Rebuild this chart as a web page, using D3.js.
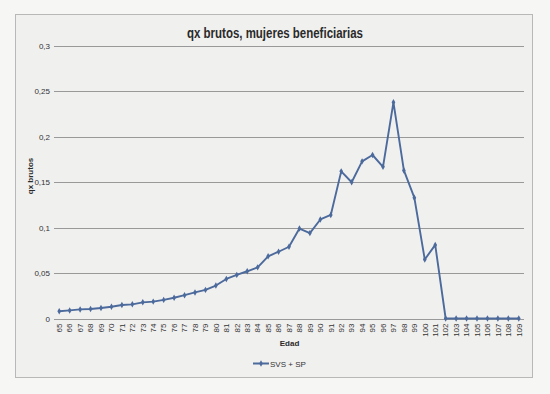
<!DOCTYPE html>
<html><head><meta charset="utf-8">
<script src="https://cdn.jsdelivr.net/npm/d3@7/dist/d3.min.js"></script>
<style>
html,body{margin:0;padding:0;background:#f6f6f5;}
svg{display:block;}
</style></head>
<body>
<svg id="c" width="550" height="394"></svg>
<script>
const ages = d3.range(65, 110).map(String);
const qx = [0.008,0.0089,0.010,0.0104,0.0115,0.013,0.0148,0.0156,0.0178,0.0186,
  0.0205,0.0228,0.0257,0.0287,0.0315,0.0363,0.0435,0.048,0.052,0.0563,
  0.0685,0.0735,0.079,0.099,0.094,0.109,0.114,0.162,0.150,0.173,
  0.180,0.167,0.238,0.163,0.133,0.065,0.081,0,0,0,
  0,0,0,0,0];
const yTicks = [0,0.05,0.1,0.15,0.2,0.25,0.3];
const yTickLabels = ["0","0,05","0,1","0,15","0,2","0,25","0,3"];
const title = "qx brutos, mujeres beneficiarias";
const xTitle = "Edad";
const yTitle = "qx brutos";
const seriesName = "SVS + SP";

const svg = d3.select("#c");
const font = "Liberation Sans, Arial, sans-serif";
const lineColor = "#4c6a9c";

// chart border
svg.append("rect").attr("x",15.5).attr("y",14.5).attr("width",517).attr("height",363)
  .attr("fill","#f0f0ef").attr("stroke","#b8b8b8").attr("stroke-width",1);

const x = d3.scaleBand().domain(ages).range([54,524]);
const y = d3.scaleLinear().domain([0,0.3]).range([318.5,46]);

// gridlines
svg.append("g").selectAll("line").data(yTicks).join("line")
  .attr("x1",54).attr("x2",524)
  .attr("y1",d=>Math.round(y(d))+0.5).attr("y2",d=>Math.round(y(d))+0.5)
  .attr("stroke","#8e8e8e").attr("stroke-width",0.9);

// y axis labels
const yAxis = d3.axisLeft(y).tickValues(yTicks).tickSize(0).tickPadding(0)
  .tickFormat((d,i)=>yTickLabels[i]);
const gy = svg.append("g").attr("transform","translate(50,0)").call(yAxis);
gy.select(".domain").remove();
gy.selectAll("text").attr("font-family",font).attr("font-size",8).attr("fill","#333");

// x axis
const xAxis = d3.axisBottom(x).tickSize(0).tickPadding(0);
const gx = svg.append("g").attr("transform",`translate(0,${Math.round(y(0))+0.5})`).call(xAxis);
gx.select(".domain").remove();
gx.selectAll("text").attr("font-family",font).attr("font-size",8).attr("fill","#333")
  .attr("transform","rotate(-90)").attr("text-anchor","end")
  .attr("x",-4).attr("y",0).attr("dy","0.35em").attr("dx",0);

// line
const line = d3.line().x((d,i)=>x(ages[i])+x.bandwidth()/2).y(d=>y(d));
svg.append("path").datum(qx).attr("d",line).attr("fill","none")
  .attr("stroke",lineColor).attr("stroke-width",1.9).attr("stroke-linejoin","round");

// markers
const diamond = d3.symbol().type(d3.symbolDiamond).size(12);
svg.append("g").selectAll("path").data(qx).join("path")
  .attr("d",diamond)
  .attr("transform",(d,i)=>`translate(${x(ages[i])+x.bandwidth()/2},${y(d)})`)
  .attr("fill",lineColor);

// title
svg.append("text").attr("x",275).attr("y",38).attr("text-anchor","middle")
  .attr("font-family",font).attr("font-weight","bold").attr("font-size",14)
  .attr("fill","#2a2a2a").attr("textLength",176).attr("lengthAdjust","spacingAndGlyphs")
  .text(title);

// axis titles
svg.append("text").attr("x",289.5).attr("y",346).attr("text-anchor","middle")
  .attr("font-family",font).attr("font-weight","bold").attr("font-size",8)
  .attr("fill","#2a2a2a").text(xTitle);
svg.append("text").attr("transform","translate(33,176) rotate(-90)").attr("text-anchor","middle")
  .attr("font-family",font).attr("font-weight","bold").attr("font-size",8)
  .attr("fill","#2a2a2a").text(yTitle);

// legend
const lg = svg.append("g");
lg.append("line").attr("x1",253).attr("x2",269).attr("y1",363.5).attr("y2",363.5)
  .attr("stroke",lineColor).attr("stroke-width",2);
lg.append("path").attr("d",diamond).attr("transform","translate(261,363.5)").attr("fill",lineColor);
lg.append("text").attr("x",270).attr("y",366.5).attr("font-family",font).attr("font-size",8)
  .attr("fill","#333").text(seriesName);
</script>
</body></html>
